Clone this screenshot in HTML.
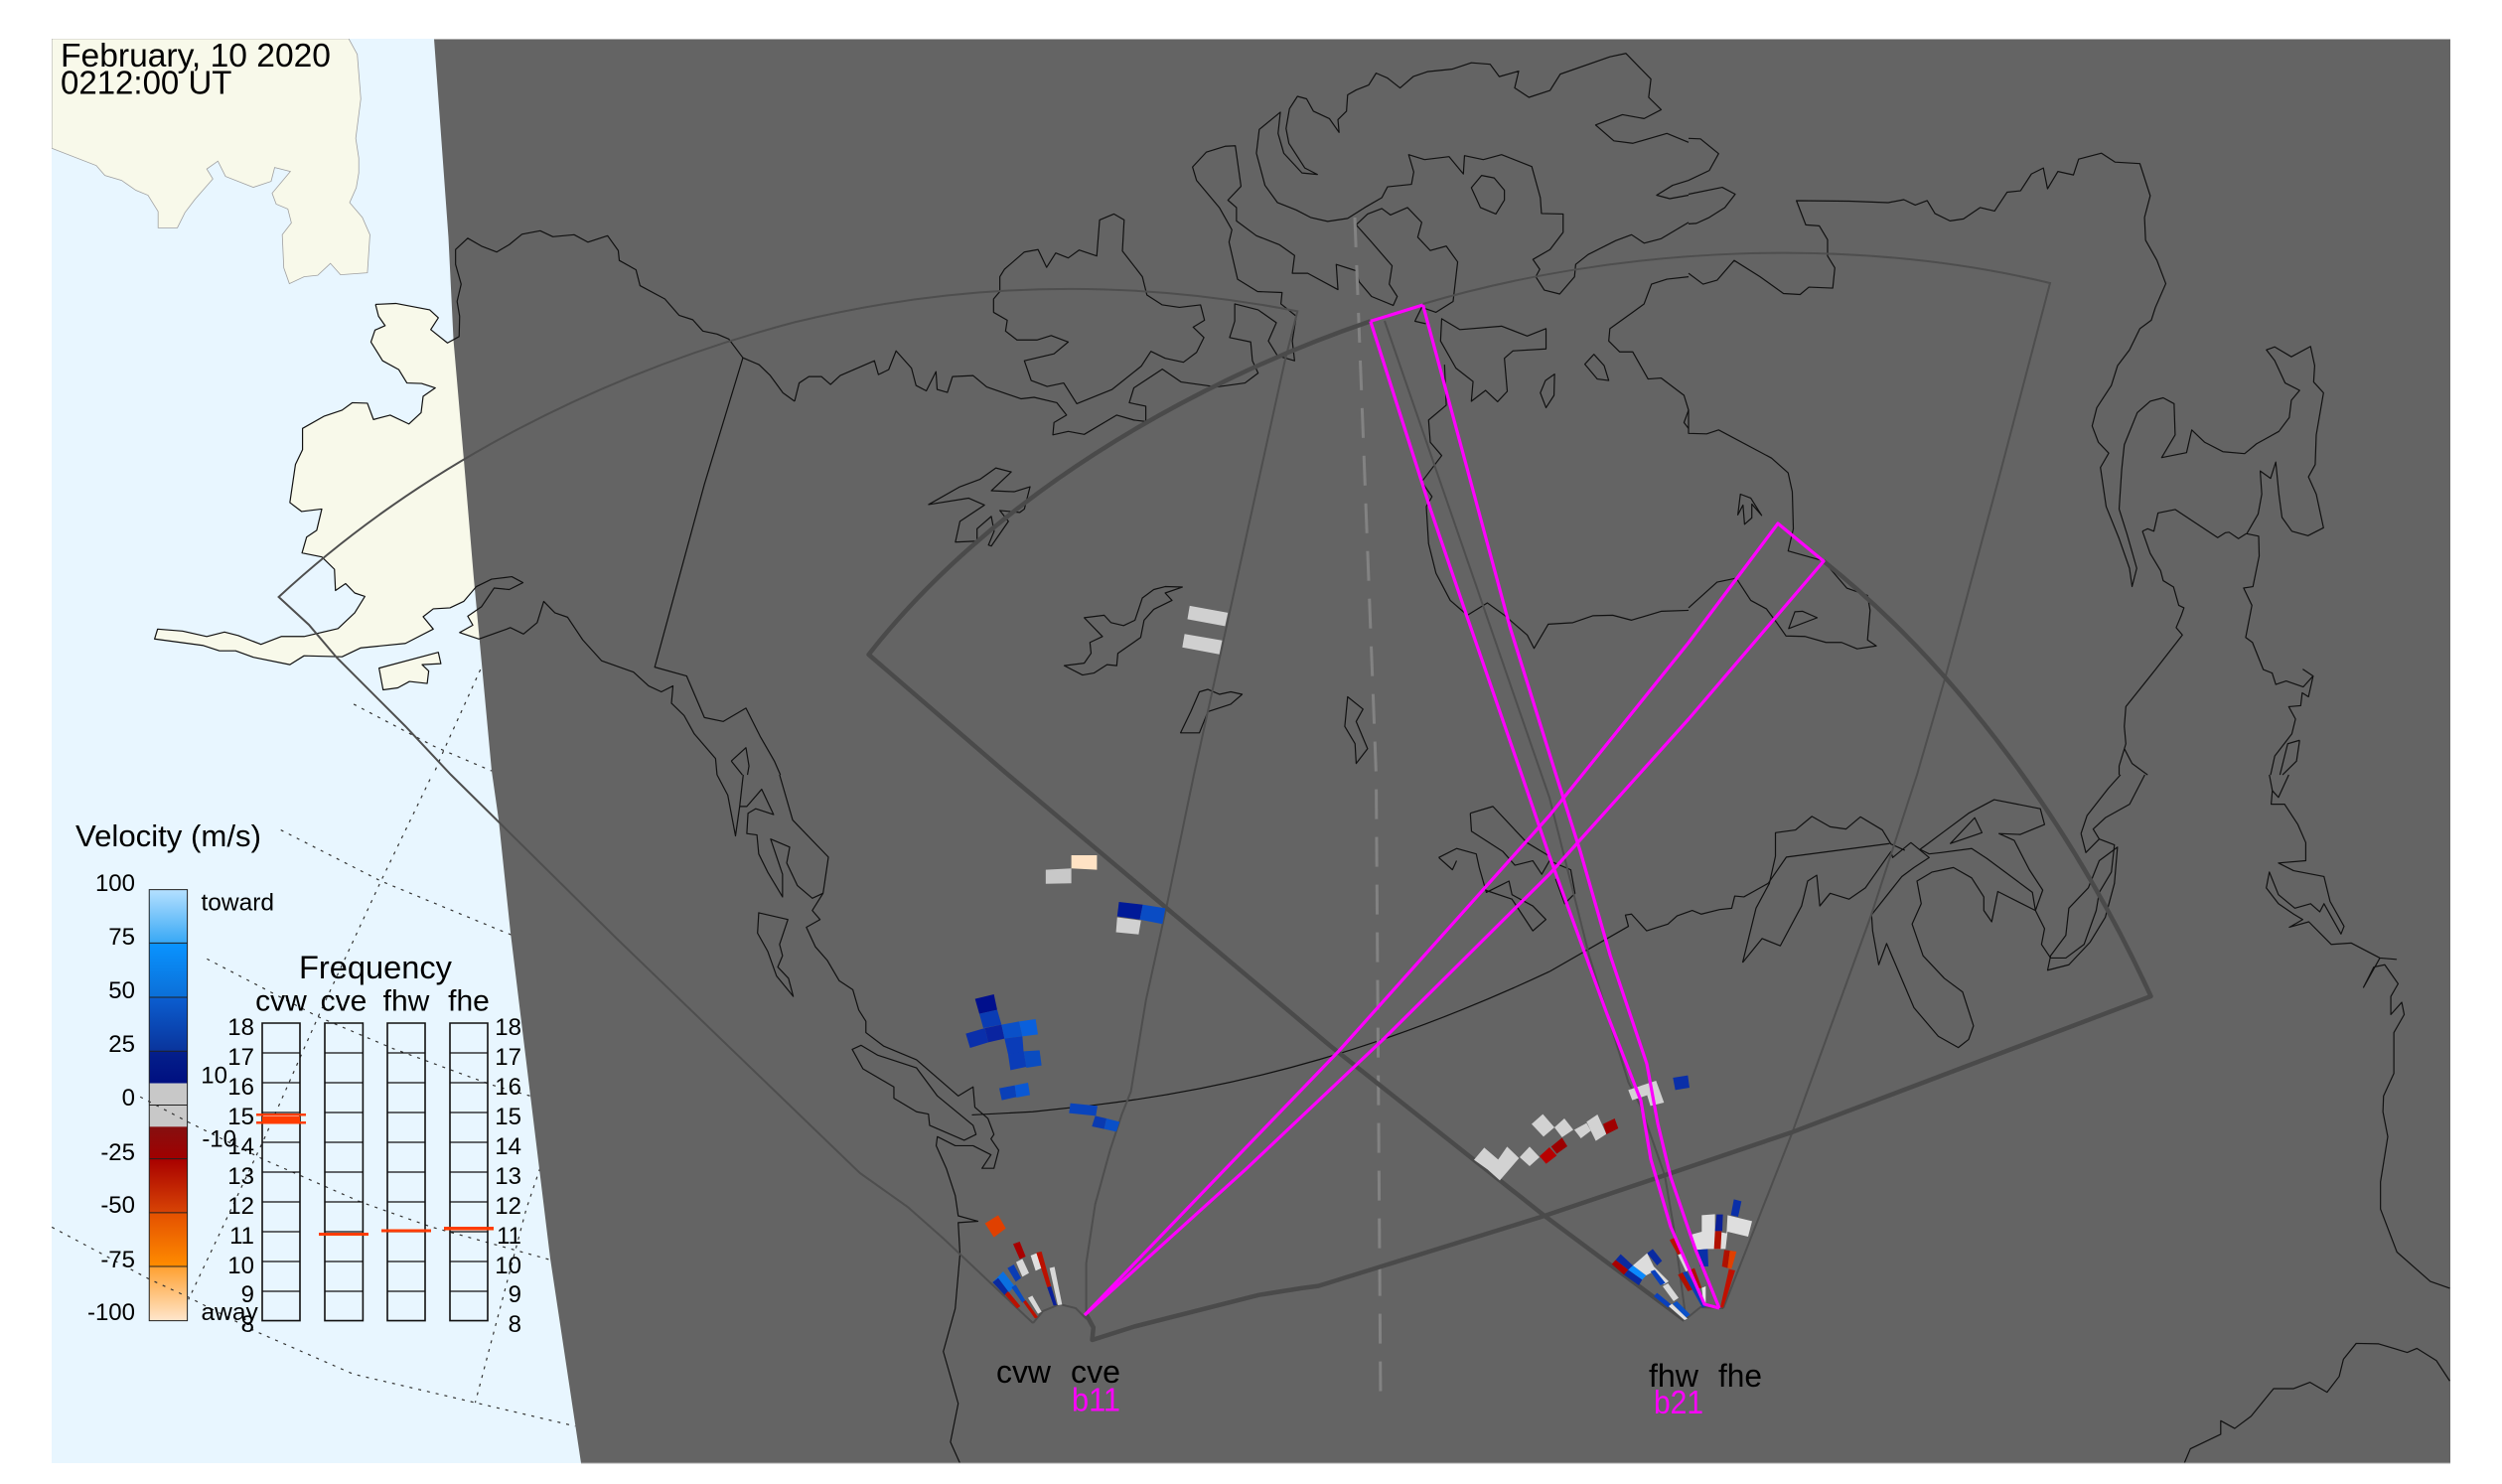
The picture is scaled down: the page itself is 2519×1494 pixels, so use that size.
<!DOCTYPE html>
<html><head><meta charset="utf-8"><style>
html,body{margin:0;padding:0;background:#fff}
svg{display:block}
path,polyline,rect{vector-effect:non-scaling-stroke}
text{font-family:"Liberation Sans",sans-serif;fill:#000}
.c{fill:none;stroke:#111;stroke-width:1.2;stroke-linejoin:round}
.g{fill:none;stroke:#333;stroke-width:1.2;stroke-dasharray:3 6}
.t{fill:none;stroke:#4e4e4e;stroke-width:2}
.k{fill:none;stroke:#4a4a4a;stroke-width:4.5;stroke-linejoin:round}
.m{fill:none;stroke:#ff00ff;stroke-width:3.2;stroke-linejoin:round}
.l{font-size:24px;text-anchor:end}
.n{font-size:24px;text-anchor:end}
.b{fill:none;stroke:#111;stroke-width:1.6}
</style></head><body>
<svg xmlns="http://www.w3.org/2000/svg" width="2519" height="1494" viewBox="0 0 2519 1494">
<defs>
<clipPath id="pc"><rect x="52" y="39" width="2415" height="1434"/></clipPath>
<linearGradient id="g1" x1="0" y1="0" x2="0" y2="1"><stop offset="0" stop-color="#b4e0ff"/><stop offset="1" stop-color="#38a8f5"/></linearGradient>
<linearGradient id="g2" x1="0" y1="0" x2="0" y2="1"><stop offset="0" stop-color="#0a94ff"/><stop offset="1" stop-color="#0b6fd8"/></linearGradient>
<linearGradient id="g3" x1="0" y1="0" x2="0" y2="1"><stop offset="0" stop-color="#0b5ed0"/><stop offset="1" stop-color="#0a349c"/></linearGradient>
<linearGradient id="g4" x1="0" y1="0" x2="0" y2="1"><stop offset="0" stop-color="#04208c"/><stop offset="1" stop-color="#000f80"/></linearGradient>
<linearGradient id="g5" x1="0" y1="0" x2="0" y2="1"><stop offset="0" stop-color="#851010"/><stop offset="1" stop-color="#a00000"/></linearGradient>
<linearGradient id="g6" x1="0" y1="0" x2="0" y2="1"><stop offset="0" stop-color="#a80000"/><stop offset="1" stop-color="#d84405"/></linearGradient>
<linearGradient id="g7" x1="0" y1="0" x2="0" y2="1"><stop offset="0" stop-color="#e45000"/><stop offset="1" stop-color="#ff8c00"/></linearGradient>
<linearGradient id="g8" x1="0" y1="0" x2="0" y2="1"><stop offset="0" stop-color="#ffa030"/><stop offset="1" stop-color="#ffe6cc"/></linearGradient>
</defs>
<rect width="2519" height="1494" fill="#fff"/>
<g clip-path="url(#pc)">
<rect x="52" y="39" width="2415" height="1434" fill="#e8f6ff"/>
<!-- land day side -->
<g transform="matrix(.5102,0,0,.4975,0,0)">
<path fill="#f8f9ea" stroke="#a0a0a0" stroke-width=".8" d="M102,78 L102,300 190,335 207,355 240,365 268,385 292,395 312,428 312,461 350,461 365,430 385,403 420,362 408,342 430,326 445,357 500,379 535,367 542,339 573,347 537,391 545,413 568,423 575,451 557,475 560,542 571,574 600,560 627,557 652,533 672,556 725,552 730,475 715,440 690,410 703,380 708,350 708,320 702,280 712,200 705,110 688,78Z"/>
<path fill="#f8f9ea" d="M741,616 781,614 848,627 865,643 850,667 883,694 906,681 1000,700 1000,1300 945,1293 907,1280 933,1265 923,1247 950,1228 975,1190 1005,1193 1032,1179 1010,1167 970,1172 940,1187 915,1217 888,1230 855,1232 835,1248 855,1273 800,1302 712,1311 675,1329 600,1327 572,1345 500,1330 465,1317 433,1317 400,1306 305,1293 311,1273 360,1277 408,1288 443,1279 470,1286 515,1304 555,1288 600,1288 667,1272 700,1240 720,1207 700,1200 682,1181 662,1195 660,1152 635,1127 596,1119 605,1087 625,1073 635,1030 595,1035 572,1017 578,975 583,940 597,910 597,867 640,842 675,830 695,815 725,816 737,849 770,840 807,858 831,835 835,802 859,785 832,776 803,775 787,748 755,730 732,692 740,668 760,659 747,640Z"/>
<path fill="#f8f9ea" d="M748,1352 865,1320 870,1343 833,1345 846,1358 843,1383 808,1379 785,1392 756,1396Z"/>
</g>
<!-- colourbar -->
<g transform="matrix(.3954,0,0,.4554,0,780)">
<rect x="380" y="254" width="97" height="118" fill="url(#g1)"/>
<rect x="380" y="372" width="97" height="120" fill="url(#g2)"/>
<rect x="380" y="492" width="97" height="119" fill="url(#g3)"/>
<rect x="380" y="611" width="97" height="71" fill="url(#g4)"/>
<rect x="380" y="682" width="97" height="96" fill="#c8c8c8"/>
<rect x="380" y="778" width="97" height="71" fill="url(#g5)"/>
<rect x="380" y="849" width="97" height="119" fill="url(#g6)"/>
<rect x="380" y="968" width="97" height="119" fill="url(#g7)"/>
<rect x="380" y="1087" width="97" height="120" fill="url(#g8)"/>
<path d="M380,372H477M380,492H477M380,611H477M380,730H477M380,849H477M380,968H477M380,1087H477" fill="none" stroke="#222" stroke-width="1"/>
<rect x="380" y="254" width="97" height="953" fill="none" stroke="#222" stroke-width="1"/>
</g>
<!-- grid -->
<g transform="matrix(.3954,0,0,.4554,0,780)">
<path class="g" d="M715,122 970,235 1285,348 1500,420"/>
<path class="g" d="M527,407 810,535 1000,605 1250,685 1350,710"/>
<path class="g" d="M357,712 480,768 670,850 920,945 1100,1000 1400,1072"/>
<path class="g" d="M132,1000 380,1115 480,1155 650,1230 900,1325 1210,1388 1465,1440"/>
<path class="g" d="M1095,10 970,235 810,535 670,810 480,1160"/>
<path class="g" d="M1375,870 1340,960 1210,1388"/>
</g>
<g transform="matrix(.5102,0,0,.4975,0,0)">
<path class="g" d="M698,1425 856,1510 970,1560"/>
<path class="g" d="M948,1355 875,1520 855,1568"/>
</g>
<!-- night -->
<path fill="#646464" d="M437,39 451.5,239 456.6,343 467,463 477,582 495,776 502,825 514,939 534,1103 554,1267 585,1473 2467,1473 2467,39Z"/>
<!-- coast zoom2 -->
<g transform="matrix(.5102,0,0,.4975,0,0)">
<path class="c" d="M741,616 781,614 848,627 865,643 850,667 883,694 906,681 907,640 902,610 910,575 899,535 899,505 923,482 950,498 980,510 1005,495 1030,474 1066,467 1091,479 1133,475 1160,490 1199,477 1220,507 1222,527 1255,546 1263,578 1312,605 1340,638 1367,647 1387,670 1415,676 1438,686 1466,724 1498,738 1520,760 1545,795 1568,812"/>
<path class="c" d="M741,616 747,640 760,659 740,668 732,692 755,730 787,748 803,775 832,776 859,785 835,802 831,835 807,858 770,840 737,849 725,816 695,815 675,830 640,842 597,867 597,910 583,940 578,975 572,1017 595,1035 635,1030 625,1073 605,1087 596,1119 635,1127 660,1152 662,1195 682,1181 700,1200 720,1207 700,1240 667,1272 600,1288 555,1288 515,1304 470,1286 443,1279 408,1288 360,1277 311,1273 305,1293 400,1306 433,1317 465,1317 500,1330 572,1345 600,1327 675,1329 712,1311 800,1302 855,1273 835,1248 855,1232 888,1230 915,1217 940,1187 970,1172 1010,1167 1032,1179 1005,1193 975,1190 950,1228 923,1247 933,1265 907,1280 945,1293 1000,1273 1007,1270 1033,1283 1060,1260 1073,1217 1095,1240 1120,1249 1150,1295 1187,1337 1250,1360 1280,1388 1305,1400 1328,1388 1325,1423 1350,1448 1370,1485 1412,1535 1415,1568"/>
<path class="c" d="M748,1352 865,1320 870,1343 833,1345 846,1358 843,1383 808,1379 785,1392 756,1396Z"/>
<path class="c" d="M1466,724 1390,980 1292,1350 1355,1368 1390,1452 1427,1460 1472,1433 1500,1490 1528,1540 1540,1568"/>
<path class="c" d="M1443,1540 1472,1513 1478,1550 1475,1568M1443,1540 1465,1568"/>
</g>
<!-- coast zoom3 -->
<g transform="matrix(.574,0,0,.4975,800,0)">
<path class="c" d="M0,812 8,775 25,762 47,762 63,778 80,760 140,730 147,758 165,748 178,710 205,745 213,780 231,791 248,752 250,788 268,794 277,762 313,760 337,783 397,807 420,804 460,815 477,840 455,855 453,880 480,873 508,879 565,840 595,850 616,853 616,822 587,815 595,785 645,747 678,773 740,783 790,775 813,755 803,730 800,692 763,683 772,650 772,615 813,627 845,653 831,690 847,720 877,730 873,690 880,640 853,615 855,592 812,590 777,565 762,490 767,465 745,420 705,365 698,338 722,308 755,296 773,295 783,377 760,405 775,420 775,447 810,477 850,495 877,517 873,553 900,553 953,586 950,535 985,548 990,570 1012,600 1050,618 1057,600 1043,575 1048,538 1012,490 985,455 1005,433 1030,422 1045,435 1075,420 1100,450 1093,480 1115,507 1143,498 1163,530 1155,610 1125,632 1100,622 1088,650 1107,655"/>
<path class="c" d="M360,560 368,545 403,510 427,505 442,541 458,512 480,522 499,506 530,518 535,445 560,433 578,445 575,508 610,560 618,597 645,617 675,622 712,617 719,648 699,662 718,683 705,713 682,733 650,725 625,711 608,741 557,788 495,817 472,775 443,782 415,770 403,730 455,716 480,692 450,679 425,688 390,688 370,670 373,648 349,632 349,605 360,590Z"/>
<path class="c" d="M1135,645 1167,667 1240,660 1285,680 1318,665 1318,706 1260,710 1245,725 1250,792 1233,813 1212,790 1187,812 1190,772 1160,745 1133,690Z"/>
<path class="c" d="M1140,738 1143,820 1112,850 1115,895 1135,922 1100,975 1118,1005 1108,1025 1112,1100 1125,1160 1150,1215 1180,1245 1215,1220 1245,1245 1285,1285 1297,1312 1322,1263 1365,1260 1400,1246 1435,1245 1468,1255 1520,1237 1568,1235"/>
<path class="c" d="M1568,867 1560,855 1568,830 1560,800 1520,765 1497,767 1470,712 1447,712 1428,690 1430,665 1470,632 1490,615 1503,575 1530,565 1568,560"/>
<path class="c" d="M1568,288 1530,270 1470,290 1437,285 1405,253 1452,232 1490,240 1520,222 1498,197 1502,160 1458,108 1430,115 1343,150 1325,183 1288,197 1263,178 1270,144 1236,155 1220,130 1187,127 1153,140 1110,145 1085,155 1062,178 1040,158 1020,148 1007,172 985,182 970,192 968,225 953,242 955,268 938,240 910,225 898,200 882,195 868,220 862,260 867,290 895,340 917,353 890,350 858,310 848,270 852,227 815,262 810,310 825,375 847,410 880,425 905,440 935,448 970,442 1000,420 1030,400 1040,378 1082,373 1086,348 1077,313 1105,323 1148,317 1173,352 1175,315 1208,323 1240,313 1293,337 1308,400 1310,432 1348,433 1348,470 1325,505 1295,525 1307,545 1300,560 1315,587 1342,595 1368,560 1370,535 1392,515 1440,487 1468,475 1490,492 1520,483 1568,450"/>
<path class="c" d="M1187,380 1205,355 1227,360 1245,385 1245,405 1230,433 1203,420Z"/>
<path class="c" d="M1568,365 1540,375 1512,395 1535,402 1568,395"/>
<path class="c" d="M1318,825 1308,795 1317,770 1333,757 1332,800Z"/>
<path class="c" d="M1402,717 1420,740 1428,770 1408,767 1386,737Z"/>
<path class="c" d="M235,1021 290,985 325,970 353,947 380,955 345,993 385,995 413,985 403,1030 395,1037 360,1033 375,1055 345,1105 340,1103 350,1075 345,1045 320,1070 320,1095 282,1097 290,1055 333,1022 305,1008Z"/>
<path class="c" d="M473,1347 508,1342 520,1322 518,1300 540,1288 508,1250 543,1245 555,1260 577,1266 597,1255 610,1210 630,1193 650,1187 680,1188 650,1200 662,1215 630,1233 613,1255 607,1290 567,1322 565,1347 548,1345 525,1362 505,1366Z"/>
<path class="c" d="M710,1400 725,1395 745,1405 765,1400 785,1405 765,1425 725,1440 710,1483 677,1483 695,1440Z"/>
<path class="c" d="M970,1410 997,1435 985,1460 1005,1515 985,1545 983,1505 965,1470Z"/>
</g>
<!-- coast zoom4 -->
<g transform="matrix(.5223,0,0,.4975,1700,0)">
<path class="c" d="M0,1230 55,1178 92,1170 120,1215 150,1232 170,1260 188,1287 225,1288 265,1300 295,1300 325,1313 362,1307 345,1295 350,1235 345,1205 305,1190 260,1135 192,1115 202,1070 200,995 192,957 160,927 58,870 35,878 0,877 0,830"/>
<path class="c" d="M0,553 28,575 55,567 88,527 138,560 183,594 215,596 232,581 278,583 282,542 268,518 268,485 252,457 226,455 208,406 310,407 385,410 415,404 437,415 460,406 475,432 504,447 530,443 562,420 590,427 614,389 640,386 661,352 684,340 692,382 712,347 742,354 752,322 796,310 822,328 870,331 890,396 879,440 881,486 903,527 920,574 900,622 892,648 870,665 850,708 827,740 815,780 787,825 778,862 790,895 810,917 794,946 805,1025 830,1090 850,1150 855,1187 864,1150 845,1080 830,1030 835,950 840,900 865,835 890,812 915,805 936,817 938,880 912,926 960,916 970,870 995,895 1030,914 1072,918 1095,898 1138,873 1158,845 1162,810 1178,790 1150,775 1130,730 1114,708 1130,702 1162,722 1199,701 1207,740 1205,773 1224,795 1210,880 1208,940 1195,965 1210,1000 1224,1068 1194,1084 1163,1075 1144,1047 1138,1000 1132,935 1122,968 1102,953 1105,1000 1098,1040 1076,1080 1099,1085 1100,1125 1088,1187 1070,1190 1086,1225 1074,1290 1087,1300 1108,1355 1125,1362 1132,1385 1152,1378 1185,1390 1204,1368 1184,1354"/>
<path class="c" d="M1204,1368 1195,1410 1183,1402 1180,1428 1157,1430 1170,1455 1163,1485 1130,1530 1122,1568"/>
<path class="c" d="M1178,1498 1155,1505 1140,1568M1178,1498 1172,1540 1145,1568"/>
<path class="c" d="M875,1075 885,1070 897,1075 905,1038 938,1031 1020,1088 1035,1078 1042,1077 1060,1090 1075,1080"/>
<path class="c" d="M875,1075 890,1120 910,1155 915,1175 935,1188 945,1225 955,1230 950,1245 940,1270 952,1285 900,1355 843,1430 840,1470 843,1505 830,1550 830,1568M840,1515 855,1545 885,1568"/>
<path class="c" d="M0,280 23,281 58,311 40,345 0,365"/>
<path class="c" d="M0,393 65,379 90,393 70,420 40,440 15,452 0,453"/>
<path class="c" d="M100,1000 120,1008 141,1043 122,1020 122,1048 108,1061 105,1022 95,1042Z"/>
<path class="c" d="M205,1238 220,1237 248,1250 193,1272Z"/>
</g>
<!-- coast zoom6 -->
<g transform="matrix(.5995,0,0,.4554,620,780)">
<path class="c" d="M170,0 188,45 201,135 208,70 214,0M208,70 220,70 245,32 265,88 235,75 222,85 220,130 237,133 240,175 255,215 280,270 280,220 260,142 292,160 287,195 305,245 330,273 348,262 350,245 357,182 297,100 275,0"/>
<path class="c" d="M348,262 330,300 343,320 320,337 335,380 355,410 375,455 398,475 408,520 420,545 420,570 450,600 505,630 575,710 600,690 603,735 625,760 635,795 630,805 643,830 635,870 615,870 630,840 600,820 570,820 540,800 538,820 555,870 570,930 575,975 608,987 575,990 578,1060 570,1180 550,1275 575,1390 562,1475 578,1522"/>
<path class="c" d="M397,607 412,598 440,620 505,648 540,710 600,775 605,795 585,808 527,775 525,750 505,745 467,715 467,690 415,650Z"/>
<path class="c" d="M240,305 289,320 275,375 280,400 272,425 290,450 298,490 270,445 255,390 238,350Z"/>
<path class="c" d="M598,752 700,745 805,730 C1060,690 1300,600 1568,435"/>
<path class="c" d="M1435,85 1473,70 1530,150 1568,180M1435,85 1437,125 1490,170 1510,200 1540,190 1555,220 1568,190"/>
<path class="c" d="M1382,183 1412,163 1445,175 1450,205 1462,260 1500,235 1505,265 1540,290 1562,320 1540,345 1505,275 1460,255M1382,183 1405,210 1412,190"/>
</g>
<!-- coast zoom5 -->
<g transform="matrix(.6116,0,0,.4554,1560,780)">
<path class="c" d="M0,435 130,335 125,310 135,308 160,345 195,330 210,312 235,300 250,308 280,298 300,295 305,268 320,270 340,255 360,240"/>
<path class="c" d="M10,230 25,285 42,262 35,210 0,190"/>
<path class="c" d="M318,415 340,295 362,240 372,180 372,128 405,122 432,92 462,115 488,120 512,93 548,122 562,153 585,167"/>
<path class="c" d="M360,240 390,182 560,152"/>
<path class="c" d="M318,415 350,362 380,378 415,290 425,235 440,222 445,290 462,262 493,275 520,250 562,170 565,183 595,150 625,183 600,205 580,225 530,310"/>
<path class="c" d="M530,305 532,345 542,420 555,373 600,515 640,578 673,603 690,585 698,555 680,480 650,450 615,400 597,330 612,285 605,235 630,215 665,205 695,228 715,270 715,300 728,325 738,258 800,300 812,255 790,210 765,145 740,130 775,132 815,110 808,75 732,55 690,85 650,125 620,155 610,165 625,175 645,172 695,163 720,185 795,260 800,300 815,340 810,375 825,405 850,405 880,375 900,300 905,260 925,215 930,155 905,142 895,120 915,95 955,65 980,0"/>
<path class="c" d="M660,152 700,95 712,128Z"/>
<path class="c" d="M875,130 885,90 920,30 940,0M875,130 883,172 905,142"/>
<path class="c" d="M820,432 855,420 890,370 915,315 930,240 935,160 905,190 887,250 855,295 850,355 825,400Z"/>
<path class="c" d="M1185,0 1190,35 1200,50 1217,0M1190,35 1188,65 1210,65 1232,110 1245,150 1245,190 1200,195 1225,212 1275,225 1285,280 1308,335 1303,352 1275,285 1268,303 1253,285 1227,295 1200,265 1185,215 1180,250 1200,285 1225,308 1240,320 1218,337 1250,325 1287,375 1320,372 1367,405 1394,408 1367,405 1340,470 1357,425 1375,420 1397,462 1385,490 1385,530 1403,503 1407,530 1390,570 1390,660 1373,710 1372,745 1380,800 1368,900 1368,960 1395,1055 1450,1120 1482,1135"/>
<path class="c" d="M1045,1522 1055,1490 1105,1458 1105,1428 1128,1445 1155,1418 1192,1357 1225,1357 1252,1343 1280,1365 1300,1330 1307,1292 1328,1257 1365,1258 1412,1277 1428,1268 1460,1295 1482,1340"/>
</g>
<!-- dashed centre line -->
<path fill="none" stroke="#828282" stroke-width="3" stroke-dasharray="30 18" d="M1364,219 1385.5,780 1390,1413"/>
<!-- thin FoV -->
<path class="t" d="M1040,1332 950,1247 913.8,1215 865.8,1181 620,944 454,780 408,731 339,662 311,629 280.6,601 C425.8,466.8 607.4,375.5 800,324.4 C968.8,283.4 1138.5,280.4 1306.3,313.4 L1293.7,363 1202,780 1174.6,912 1153.6,1007.7 1138.6,1098.8 1129.6,1121.5 1117.6,1158 1102.6,1212.6 1093.6,1271.8 1093.6,1324"/>
<path class="t" d="M1040,1332 1050,1320 1067,1313 1083,1317 1094,1328"/>
<path class="t" d="M1735,1317 1804.6,1139.7 1884,921 1930,780 1958.6,681.6 2013.4,477.6 2064,285 C1864,236.5 1628.7,248 1432.6,306"/>
<path class="t" d="M1394,323 1552,780 1560,803 1600,962 1639.5,1089.6 1651,1112 1676,1183 1685,1235 1697,1325"/>
<path class="t" d="M1696,1329 1712,1316 1735,1317"/>
<!-- thick FoV -->
<path class="k" d="M1696,1329 1555,1224 1339.4,1053 1015,780 874.6,659 C995.6,503.6 1193.7,386.7 1379.8,323.4"/>
<path class="k" d="M1094,1324 1100.8,1336.5 1099.6,1349 1141.6,1335.6 1267.5,1303.7 1309.5,1297 1327.4,1294.6 1555,1224 1804.6,1139.7 2165.5,1003 C2090.9,840.5 1976,676.7 1835.8,564.7"/>
<!-- data cells -->
<g transform="matrix(.574,0,0,.4975,800,0)" fill="#d0d0d0">
<path d="M693,1226 760,1240 755,1267 689,1253Z"/>
<path d="M684,1283 750,1296 745,1324 680,1310Z"/>
</g>
<g transform="matrix(.5995,0,0,.4554,620,780)">
<path fill="#ffe2c4" d="M765,178 808,178 808,210 765,207Z"/>
<path fill="#c8c8c8" d="M722,210 765,207 765,240 722,241Z"/>
<path fill="#001a98" d="M845,281 885,287 880,320 842,313Z"/>
<path fill="#0a4cc4" d="M885,287 923,295 918,330 880,320Z"/>
<path fill="#d0d0d0" d="M842,315 882,322 878,353 840,348Z"/>
</g>
<g transform="matrix(.3333,0,0,.3333,940,980)">
<path fill="#000f8c" d="M125,77 182,63 192,110 138,122Z"/>
<path fill="#0a3cb4" d="M138,122 192,110 205,155 150,165Z"/>
<path fill="#0a2faa" d="M97,182 155,165 165,208 110,225Z"/>
<path fill="#0a24a0" d="M155,165 205,155 214,197 165,208Z"/>
<path fill="#0a50c8" d="M205,155 258,145 268,190 214,197Z"/>
<path fill="#0a60dc" d="M258,145 308,138 315,184 268,190Z"/>
<path fill="#0a3cb8" d="M214,197 268,190 272,240 225,245Z"/>
<path fill="#0a3cb8" d="M225,245 272,235 280,282 232,292Z"/>
<path fill="#0a4cc0" d="M272,235 320,232 326,278 280,285Z"/>
<path fill="#0a40b8" d="M198,347 245,338 250,373 206,383Z"/>
<path fill="#0a58d4" d="M245,338 285,330 291,367 250,375Z"/>
<path fill="#0a44bc" d="M413,392 495,400 490,430 409,422Z"/>
<path fill="#0a3ab0" d="M488,430 522,438 515,470 478,462Z"/>
<path fill="#0a50c8" d="M522,438 562,448 552,478 515,470Z"/>
</g>
<g transform="matrix(.3333,0,0,.3333,1460,1060)">
<g fill="#d2d2d2">
<path d="M72,323 103,286 145,322 172,283 208,318 150,385 113,352Z"/>
<path d="M210,315 240,283 270,315 240,342Z"/>
<path d="M246,215 280,185 315,225 282,253Z"/>
<path d="M315,225 345,198 372,232 338,255Z"/>
<path d="M375,232 412,212 425,235 395,258Z"/>
<path d="M412,208 445,186 472,245 440,266 425,235Z"/>
<path d="M538,112 622,84 646,150 605,160 595,128 550,143Z"/>
</g>
<path fill="#b80000" d="M270,312 300,285 322,310 290,335Z"/>
<path fill="#9c0000" d="M305,283 338,256 354,282 322,305Z"/>
<path fill="#a00000" d="M462,215 497,198 508,228 472,246Z"/>
<path fill="#0a2fa8" d="M673,75 718,68 723,105 680,112Z"/>
</g>
<g transform="matrix(.3333,0,0,.3333,950,1180)">
<path fill="#e04000" d="M125,155 165,130 188,170 152,197Z"/>
<path fill="#a80000" d="M210,217 230,210 248,255 230,263Z"/>
<path fill="#d8d8d8" d="M219,272 238,262 258,305 238,316Z"/>
<path fill="#0a3cb4" d="M193,290 212,279 234,320 218,331Z"/>
<path fill="#e0e0e0" d="M263,252 283,244 296,290 278,298Z"/>
<path fill="#bb1100" d="M280,243 296,240 325,345 313,348Z"/>
<path fill="#0a1f98" d="M313,348 325,345 342,402 332,403Z"/>
<path fill="#d8d8d8" d="M320,290 335,286 358,400 345,402Z"/>
<path fill="#0a70e0" d="M148,333 180,300 215,345 190,370Z"/>
<path fill="#0a2aa0" d="M148,333 165,320 195,360 185,372Z"/>
<path fill="#bb1100" d="M185,370 195,360 232,405 222,412Z"/>
<path fill="#0a4cc0" d="M205,348 218,340 247,388 238,395Z"/>
<path fill="#bb1100" d="M240,392 248,387 285,438 276,442Z"/>
<path fill="#d8d8d8" d="M255,380 268,373 296,422 285,428Z"/>
</g>
<g transform="matrix(.3333,0,0,.3333,1600,1180)">
<path fill="#a80000" d="M68,278 80,265 118,295 105,310Z"/>
<path fill="#0a2aa0" d="M80,265 95,248 132,282 118,295Z"/>
<path fill="#0a2aa0" d="M105,310 118,295 160,325 150,342Z"/>
<path fill="#0a8aff" d="M118,295 132,282 172,312 160,325Z"/>
<path fill="#dcdcdc" d="M132,282 175,245 195,285 240,330 225,340 195,300 172,312Z"/>
<path fill="#0a2aa0" d="M175,245 192,232 220,268 205,282Z"/>
<path fill="#0a40bc" d="M185,300 198,295 230,335 215,342Z"/>
<path fill="#d8d8d8" d="M222,345 238,336 270,380 255,390Z"/>
<path fill="#0a40bc" d="M195,375 205,365 248,400 238,410Z"/>
<path fill="#0a50c8" d="M252,397 265,390 305,430 292,440Z"/>
<path fill="#e0e0e0" d="M240,405 250,398 297,443 288,447Z"/>
<path fill="#dedede" d="M303,190 340,180 340,130 380,127 380,178 415,185 418,130 492,148 480,195 418,180 412,232 360,232 322,235Z"/>
<path fill="#0a1f98" d="M385,128 404,128 402,178 380,178Z"/>
<path fill="#b01000" d="M380,178 400,178 397,232 377,232Z"/>
<path fill="#0a2fa8" d="M437,82 460,88 450,135 428,130Z"/>
<path fill="#b81000" d="M243,205 260,197 282,243 268,250Z"/>
<path fill="#d8d8d8" d="M268,250 285,243 305,295 292,300Z"/>
<path fill="#0a2fa8" d="M322,235 358,232 360,285 335,285Z"/>
<path fill="#b01000" d="M408,235 425,237 418,290 401,285Z"/>
<path fill="#e04000" d="M425,237 445,240 430,292 418,290Z"/>
<path fill="#c01000" d="M422,293 441,297 405,410 396,408Z"/>
<path fill="#b01000" d="M268,310 282,303 312,355 298,360Z"/>
<path fill="#b01000" d="M305,295 318,290 340,350 325,352Z"/>
<path fill="#0a3cb4" d="M282,303 295,300 355,405 342,410Z"/>
<path fill="#e8e8e8" d="M340,350 352,345 352,395 345,395Z"/>
</g>
<!-- magenta beams -->
<path class="m" d="M1379.8,323.4 1432.6,307"/>
<path class="m" d="M1379.8,323.4 1440.3,513 1477.4,622 1532,780 1560,862 1618,1021 1652,1108 1662,1167 1682,1235 1716,1313 1731,1317"/>
<path class="m" d="M1432.6,307 1520.4,632 1566.6,780 1591,857 1621.2,962 1658,1071 1669,1131 1682,1185 1707,1258 1731,1317"/>
<path class="m" d="M1092,1324 1348,1058 1560,821 1700,647 1790,527 1836,565 1700,724 1560,880 1393,1046 1255.5,1176 1092,1324"/>
<!-- freq boxes -->
<g>
<rect class="b" x="264" y="1030" width="38" height="299.6"/>
<rect class="b" x="327" y="1030" width="38.4" height="299.6"/>
<rect class="b" x="390" y="1030" width="38" height="299.6"/>
<rect class="b" x="453" y="1030" width="38" height="299.6"/>
<path fill="none" stroke="#111" stroke-width="1.2" d="M264,1060H302M264,1090H302M264,1120H302M264,1150H302M264,1180H302M264,1210H302M264,1240H302M264,1270H302M264,1300H302
M327,1060H365M327,1090H365M327,1120H365M327,1150H365M327,1180H365M327,1210H365M327,1240H365M327,1270H365M327,1300H365
M390,1060H428M390,1090H428M390,1120H428M390,1150H428M390,1180H428M390,1210H428M390,1240H428M390,1270H428M390,1300H428
M453,1060H491M453,1090H491M453,1120H491M453,1150H491M453,1180H491M453,1210H491M453,1240H491M453,1270H491M453,1300H491"/>
<rect x="258" y="1121" width="50" height="2.5" fill="#ff3c00"/>
<rect x="264" y="1124" width="38" height="5" fill="#ff3c00"/>
<rect x="258" y="1129" width="50" height="2.5" fill="#ff3c00"/>
<rect x="321" y="1241" width="50" height="3" fill="#ff3c00"/>
<rect x="384" y="1237.5" width="50" height="3" fill="#ff3c00"/>
<rect x="447" y="1235" width="50" height="3.5" fill="#ff3c00"/>
</g>
<!-- text -->
<text x="61" y="67" font-size="33" textLength="272" lengthAdjust="spacingAndGlyphs">February, 10 2020</text>
<text x="61" y="94.5" font-size="33">0212:00 UT</text>
<text x="76" y="852" font-size="30.5" textLength="187" lengthAdjust="spacingAndGlyphs">Velocity (m/s)</text>
<g>
<text class="l" x="136" y="897">100</text><text class="l" x="136" y="951">75</text><text class="l" x="136" y="1005">50</text><text class="l" x="136" y="1059">25</text><text class="l" x="136" y="1113">0</text><text class="l" x="136" y="1168">-25</text><text class="l" x="136" y="1221">-50</text><text class="l" x="136" y="1276">-75</text><text class="l" x="136" y="1329">-100</text>
</g>
<text x="202.5" y="916.6" font-size="24.5">toward</text>
<text x="202.5" y="1329" font-size="24.5">away</text>
<text x="301" y="985" font-size="32.6">Frequency</text>
<text x="283" y="1017.7" font-size="30" text-anchor="middle">cvw</text>
<text x="346" y="1017.7" font-size="30" text-anchor="middle">cve</text>
<text x="409" y="1017.7" font-size="30" text-anchor="middle">fhw</text>
<text x="472" y="1017.7" font-size="30" text-anchor="middle">fhe</text>
<g>
<text class="n" x="256" y="1042">18</text><text class="n" x="256" y="1072">17</text><text class="n" x="256" y="1102">16</text><text class="n" x="256" y="1132">15</text><text class="n" x="256" y="1162">14</text><text class="n" x="256" y="1192">13</text><text class="n" x="256" y="1222">12</text><text class="n" x="256" y="1252">11</text><text class="n" x="256" y="1282">10</text><text class="n" x="256" y="1311">9</text><text class="n" x="256" y="1341">8</text>
<text class="n" x="525" y="1042">18</text><text class="n" x="525" y="1072">17</text><text class="n" x="525" y="1102">16</text><text class="n" x="525" y="1132">15</text><text class="n" x="525" y="1162">14</text><text class="n" x="525" y="1192">13</text><text class="n" x="525" y="1222">12</text><text class="n" x="525" y="1252">11</text><text class="n" x="525" y="1282">10</text><text class="n" x="525" y="1311">9</text><text class="n" x="525" y="1341">8</text>
</g>
<text class="n" x="229" y="1090.5">10</text>
<text class="n" x="238" y="1154.5">-10</text>
<text x="1003" y="1392" font-size="32" textLength="55" lengthAdjust="spacingAndGlyphs">cvw</text>
<text x="1078" y="1392" font-size="32" textLength="50" lengthAdjust="spacingAndGlyphs">cve</text>
<text x="1079" y="1420.6" font-size="33" textLength="49" lengthAdjust="spacingAndGlyphs" style="fill:#ff00ff">b11</text>
<text x="1660" y="1396" font-size="32" textLength="50" lengthAdjust="spacingAndGlyphs">fhw</text>
<text x="1730" y="1396" font-size="32" textLength="44" lengthAdjust="spacingAndGlyphs">fhe</text>
<text x="1665" y="1423" font-size="33" textLength="50" lengthAdjust="spacingAndGlyphs" style="fill:#ff00ff">b21</text>
</g>
<path d="M437,39.5H2467M585,1473H2467" fill="none" stroke="#aaa" stroke-width="1"/>
</svg>
</body></html>
